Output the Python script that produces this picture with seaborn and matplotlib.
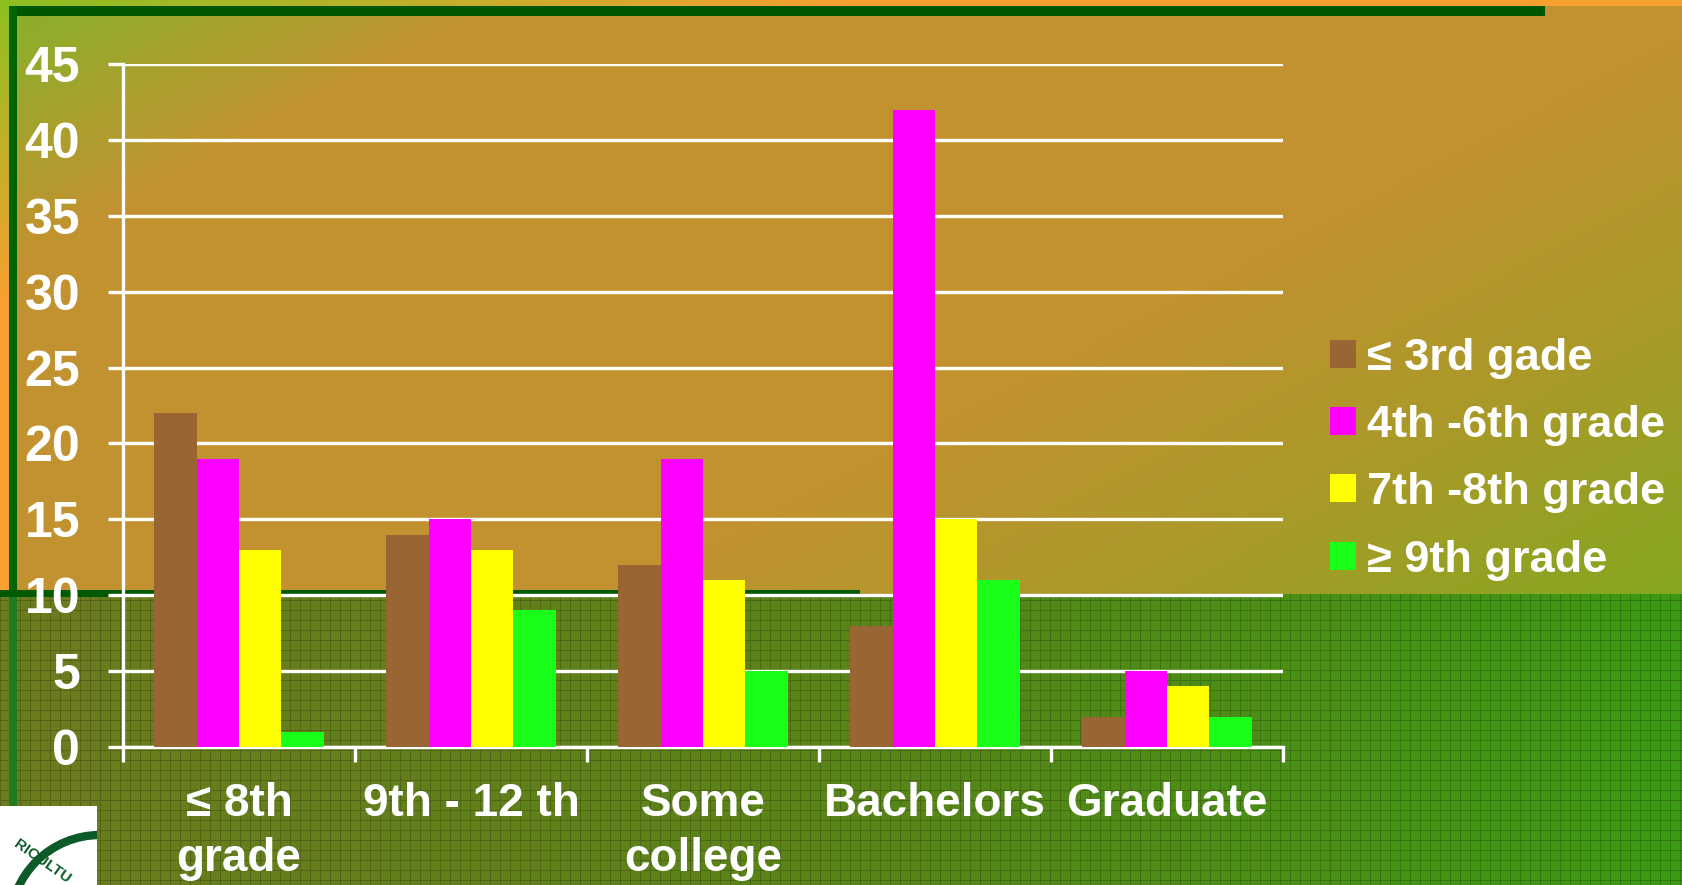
import numpy as np
import pandas as pd
import matplotlib
matplotlib.use("Agg")
import matplotlib.pyplot as plt
import matplotlib.patches as mpatches
from matplotlib.colors import LinearSegmentedColormap
import seaborn as sns

# data
levels = ["\u2264 8th\ngrade", "9th - 12 th", "Some\ncollege", "Bachelors", "Graduate"]
grades = ["\u2264 3rd gade", "4th -6th grade", "7th -8th grade", "\u2265 9th grade"]
le_3rd = [22, 14, 12, 8, 2]
g4_6 = [19, 15, 19, 42, 5]
g7_8 = [13, 13, 11, 15, 4]
ge_9th = [1, 9, 5, 11, 2]
colors = ["#996633", "#FF00FF", "#FFFF00", "#1AFF1A"]

rows = []
for g, vals in zip(grades, [le_3rd, g4_6, g7_8, ge_9th]):
    for lev, v in zip(levels, vals):
        rows.append({"level": lev, "grade": g, "pct": v})
df = pd.DataFrame(rows)

sns.set_theme(style="white")
plt.rcParams["font.family"] = ["Liberation Sans", "DejaVu Sans"]
plt.rcParams["font.weight"] = "bold"

W, H = 1683, 885
fig = plt.figure(figsize=(W / 100, H / 100), dpi=100)

# slide background
bg = fig.add_axes([0, 0, 1, 1], zorder=-5)
bg.set_axis_off()
yy, xx = np.mgrid[0:H, 0:W]
t = xx / W + yy / H
top_cmap = LinearSegmentedColormap.from_list(
    "top", [(0, "#86b22a"), (0.18, "#c39230"), (0.6, "#c39230"), (0.8, "#a89a28"), (1.0, "#82a820")])
img = top_cmap(np.clip(t / 1.7, 0, 1))[..., :3]
bot_cmap = LinearSegmentedColormap.from_list("bot", ["#6c7c1e", "#5a8418", "#3c9a12"])
bot = bot_cmap(xx / W)[..., :3]
grid = ((xx % 10) == 0) | ((yy % 10) == 0)
bot = np.where(grid[..., None], bot * 0.8, bot)
img = np.where((yy >= 594)[..., None], bot, img)
bg.imshow(img, extent=(0, W, H, 0), aspect="auto", interpolation="nearest")
# outer frame strips and dark green bars
strip = LinearSegmentedColormap.from_list("s", ["#8dc020", "#f5a030", "#f8a030"])
bg.imshow(strip(np.linspace(0, 1, 200))[None, :, :3], extent=(0, W, 6, 0), aspect="auto")
bg.imshow(strip(np.linspace(0, 1, 100))[:, None, :3], extent=(0, 9, 590, 0), aspect="auto")
bg.add_patch(mpatches.Rectangle((9, 6), 1536, 10, color="#005500", lw=0))
bg.add_patch(mpatches.Rectangle((9, 6), 8, 586, color="#006400", lw=0))
bg.add_patch(mpatches.Rectangle((9, 592), 8, 300, color="#217a1f", lw=0))
bg.add_patch(mpatches.Rectangle((0, 590), 860, 7, color="#005a00", lw=0))
# logo corner
box = mpatches.Rectangle((0, 806), 97, 80, color="white", lw=0)
bg.add_patch(box)
seal = mpatches.Circle((100, 925), 90, fill=False, ec="#0b5a28", lw=6)
bg.add_patch(seal)
seal.set_clip_path(box)
bg.text(42, 862, "RICULTU", color="#0b5a28", fontsize=11, rotation=-35,
        ha="center", va="center", fontweight="bold")
bg.set_xlim(0, W)
bg.set_ylim(H, 0)

ax = fig.add_axes([123 / W, 1 - 747 / H, (1283 - 123) / W, (747 - 64) / H])
ax.patch.set_alpha(0)
sns.barplot(data=df, x="level", y="pct", hue="grade", palette=colors,
            width=0.73, saturation=1, gap=0, ax=ax, zorder=3, legend=False)
for p in ax.patches:
    p.set_linewidth(0)

ax.set_ylim(0, 45)
ax.set_xlim(-0.5, 4.5)
ax.set_yticks(range(0, 46, 5))
ax.yaxis.grid(True, color="white", lw=2.4, zorder=1)
ax.set_axisbelow(True)
ax.set_xlabel("")
ax.set_ylabel("")
for s in ["top", "right"]:
    ax.spines[s].set_visible(False)
for s in ["left", "bottom"]:
    ax.spines[s].set_color("white")
    ax.spines[s].set_linewidth(2.4)

ax.set_xticks([x - 0.5 for x in range(6)], minor=False)
ax.set_xticklabels([])
ax.set_xticks(range(5), minor=True)
ax.set_xticklabels(levels, minor=True, fontsize=33, color="white",
                   fontweight="bold", linespacing=1.32)
ax.tick_params(axis="x", which="major", direction="out", length=11, width=2.4,
               color="white", bottom=True)
ax.tick_params(axis="x", which="minor", length=0, pad=25)
ax.tick_params(axis="y", direction="out", length=11, width=2.4, color="white",
               left=True, labelsize=36, labelcolor="white", pad=20)
for lab in ax.get_yticklabels():
    lab.set_fontweight("bold")

handles = [mpatches.Patch(color=c, lw=0) for c in colors]
fig.legend(handles, grades, loc="upper left", bbox_to_anchor=(1330 / W, 1 - 338 / H),
           frameon=False, handlelength=0.58, handleheight=0.58,
           handletextpad=0.25, labelspacing=0.58, borderpad=0, borderaxespad=0,
           labelcolor="white", prop={"weight": "bold", "size": 32.5})

fig.savefig("out.png", dpi=100)
